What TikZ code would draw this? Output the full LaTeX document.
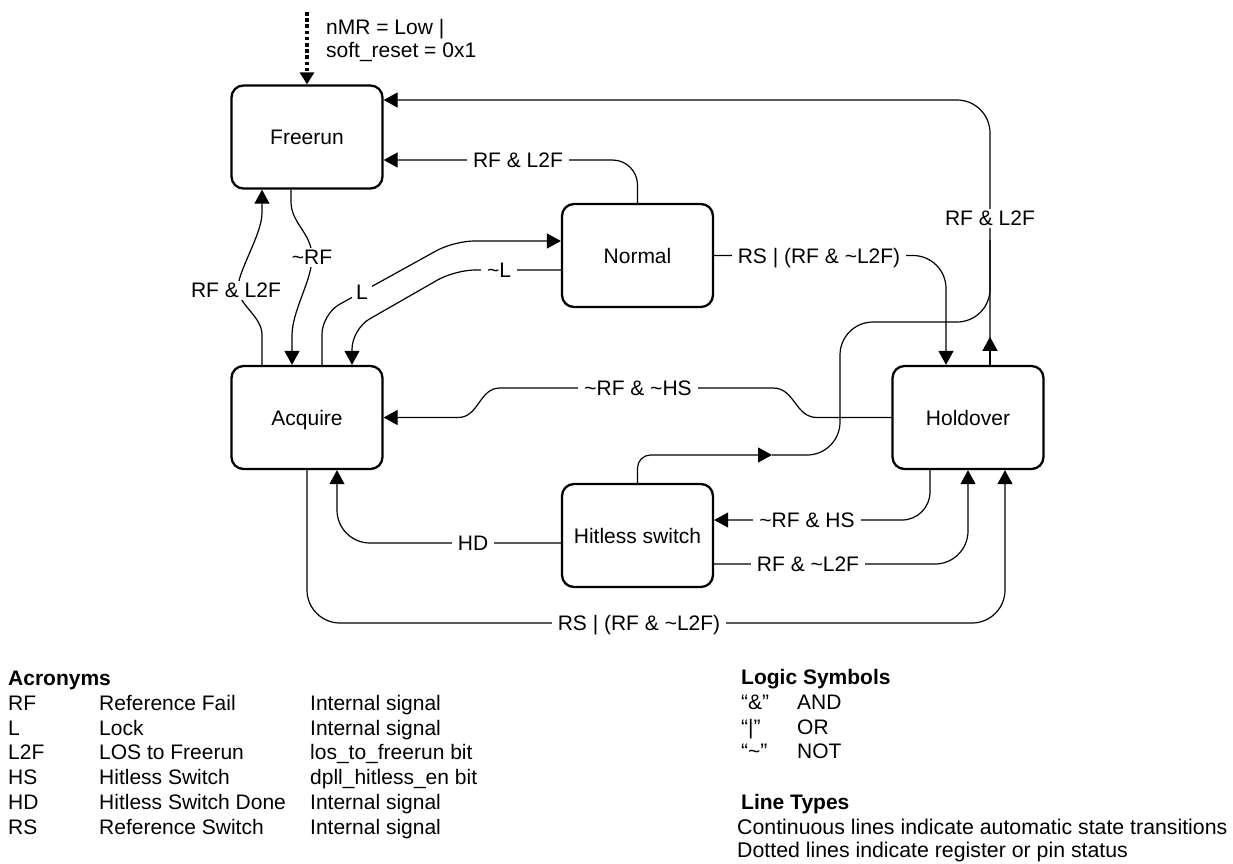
\documentclass[tikz,border=0pt]{standalone}
\usepackage{fontspec}
\setmainfont{Liberation Sans}
\usetikzlibrary{arrows.meta,calc}
\newcommand{\fs}{\fontsize{21}{25}\selectfont}
\tikzset{
  stbox/.style={draw, line width=2.3pt, rounded corners=12pt, minimum width=151pt, minimum height=103pt, inner sep=0pt, font=\fs, text height=15pt, text depth=0pt},
  conn/.style={line width=1.2pt},
  arr/.style={-{Triangle[length=14pt,width=15pt]}},
  lbl/.style={fill=white, inner xsep=6pt, inner ysep=2pt, font=\fs, text height=15pt, text depth=0pt},
  txt/.style={anchor=base west, inner sep=0pt, font=\fs},
  btxt/.style={anchor=base west, inner sep=0pt, font=\fs\bfseries},
}
\begin{document}
\begin{tikzpicture}[x=1pt,y=-1pt]
\useasboundingbox (0,0) rectangle (1233,863);
% states
\node[stbox] (fr) at (307,137) {Freerun};
\node[stbox] (nm) at (637.5,255.5) {Normal};
\node[stbox] (aq) at (307,417.5) {Acquire};
\node[stbox] (ho) at (968,417.5) {Holdover};
\node[stbox] (hs) at (637.5,535.5) {Hitless switch};

% reset input (dotted)
\coordinate (rst) at (307,12);
\draw[line width=3.6pt, dash pattern=on 3.6pt off 2.6pt, -{Triangle[length=12pt,width=14pt]}] (rst) -- (fr.north);
\node[txt] (nmr) at (326,34.5) {nMR = Low \textbar};
\node[txt] (srst) at (326,57.5) {soft\_reset = 0x1};

% Holdover -> Freerun
\coordinate (hoT) at ($(ho.north)+(22,0)$);
\draw[conn,arr] (hoT) -- ++(0,-28);
\draw[conn,arr,rounded corners=33pt] (hoT) |- ($(fr.east)+(0,-37)$);
% Hitless -> (joins) -> Freerun
\coordinate (m1) at (772,455);
\coordinate (jn) at (990,240);
\draw[conn,arr,rounded corners=13pt] (hs.north) |- (m1);
\draw[conn,rounded corners=33pt] (m1) -- (840,455) -- (840,322) -- (990,322) -- (jn);
\node[lbl] (l1) at (990,218) {RF \& L2F};

% Normal -> Holdover
\draw[conn,arr,rounded corners=33pt] (nm.east) -| ($(ho.north)+(-22,0)$);
\node[lbl] (l2) at (819,255.5) {RS \textbar{} (RF \& \textasciitilde L2F)};

% Normal -> Freerun
\draw[conn,arr,rounded corners=25pt] (nm.north) |- ($(fr.east)+(0,23)$);
\node[lbl] (l3) at (518,160) {RF \& L2F};

% Freerun -> Acquire (~RF)
\draw[conn,arr] ($(fr.south)+(-16,0)$) -- ++(0,12) .. controls +(0,22) and +(0,-24) .. (312,257) .. controls +(0,24) and +(0,-26) .. (292,336) -- ($(aq.north)+(-15,0)$);
\node[lbl,inner xsep=3pt] (l4) at (312,257) {\textasciitilde RF};

% Acquire -> Freerun (RF & L2F)
\draw[conn,arr] ($(aq.north)+(-45,0)$) -- ++(0,-30) .. controls +(0,-18) and +(2,16) .. (238,290) .. controls +(-2,-16) and +(0,22) .. (262,213) -- ($(fr.south)+(-45,0)$);
\node[lbl,inner xsep=3pt] (l5) at (236,290) {RF \& L2F};

% Acquire -> Normal (L)
\draw[conn,arr,rounded corners=20pt] ($(aq.north)+(15,0)$) -- (322,314) -- (454,241) -- ($(nm.west)+(0,-14.5)$);
\node[lbl,inner xsep=4pt] (l6) at (362,292) {L};

% Normal -> Acquire (~L)
\draw[conn,arr,rounded corners=20pt] ($(nm.west)+(0,14.5)$) -- (455,270) -- (352,329) -- ($(aq.north)+(45,0)$);
\node[lbl] (l7) at (499,270) {\textasciitilde L};

% Holdover -> Acquire (~RF & ~HS)
\draw[conn,arr] (ho.west) -- (817,417.5) .. controls (795,417.5) and (795,388) .. (773,388) -- (500,388) .. controls (479,388) and (479,417.5) .. (458,417.5) -- (aq.east);
\node[lbl] (l8) at (638,388) {\textasciitilde RF \& \textasciitilde HS};

% Hitless -> Acquire (HD)
\draw[conn,arr,rounded corners=33pt] ($(hs.west)+(0,7.5)$) -| ($(aq.south)+(30,0)$);
\node[lbl] (l9) at (473,543) {HD};

% Acquire -> Holdover (bottom)
\coordinate (bt) at (639,623);
\draw[conn,arr,rounded corners=33pt] (aq.south) |- (bt) -| ($(ho.south)+(37,0)$);
\node[lbl] (l10) at (639,623) {RS \textbar{} (RF \& \textasciitilde L2F)};

% Holdover -> Hitless
\draw[conn,arr,rounded corners=28pt] ($(ho.south)+(-38,0)$) |- ($(hs.east)+(0,-15.5)$);
\node[lbl] (l11) at (807,520) {\textasciitilde RF \& HS};

% Hitless -> Holdover
\draw[conn,arr,rounded corners=33pt] ($(hs.east)+(0,28.5)$) -| (ho.south);
\node[lbl] (l12) at (808,564) {RF \& \textasciitilde L2F};

% Legend: acronyms
\node[btxt] (ach) at (8,685.5) {Acronyms};
\node[txt] (a1a) at (8,710.5) {RF};   \node[txt] (a1b) at (99,710.5) {Reference Fail};      \node[txt] (a1c) at (310,710.5) {Internal signal};
\node[txt] (a2a) at (8,735.2) {L};    \node[txt] (a2b) at (99,735.2) {Lock};                \node[txt] (a2c) at (310,735.2) {Internal signal};
\node[txt] (a3a) at (8,759.9) {L2F};  \node[txt] (a3b) at (99,759.9) {LOS to Freerun};      \node[txt] (a3c) at (310,759.9) {los\_to\_freerun bit};
\node[txt] (a4a) at (8,784.6) {HS};   \node[txt] (a4b) at (99,784.6) {Hitless Switch};      \node[txt] (a4c) at (310,784.6) {dpll\_hitless\_en bit};
\node[txt] (a5a) at (8,809.3) {HD};   \node[txt] (a5b) at (99,809.3) {Hitless Switch Done}; \node[txt] (a5c) at (310,809.3) {Internal signal};
\node[txt] (a6a) at (8,834) {RS};     \node[txt] (a6b) at (99,834) {Reference Switch};      \node[txt] (a6c) at (310,834) {Internal signal};

% Legend: logic symbols
\node[btxt] (lsh) at (741,684.5) {Logic Symbols};
\node[txt] (s1a) at (741,709.5) {“\&”};         \node[txt] (s1b) at (797,709.5) {AND};
\node[txt] (s2a) at (741,734.5) {“\textbar”};   \node[txt] (s2b) at (797,734.5) {OR};
\node[txt] (s3a) at (741,758.5) {“\textasciitilde”}; \node[txt] (s3b) at (797,758.5) {NOT};

% Legend: line types
\node[btxt] (lth) at (741,809.5) {Line Types};
\node[txt,font=\fontsize{21.3}{25}\selectfont] (lt1) at (737,834) {Continuous lines indicate automatic state transitions};
\node[txt,font=\fontsize{21.3}{25}\selectfont] (lt2) at (737,857.5) {Dotted lines indicate register or pin status};
\end{tikzpicture}
\end{document}
